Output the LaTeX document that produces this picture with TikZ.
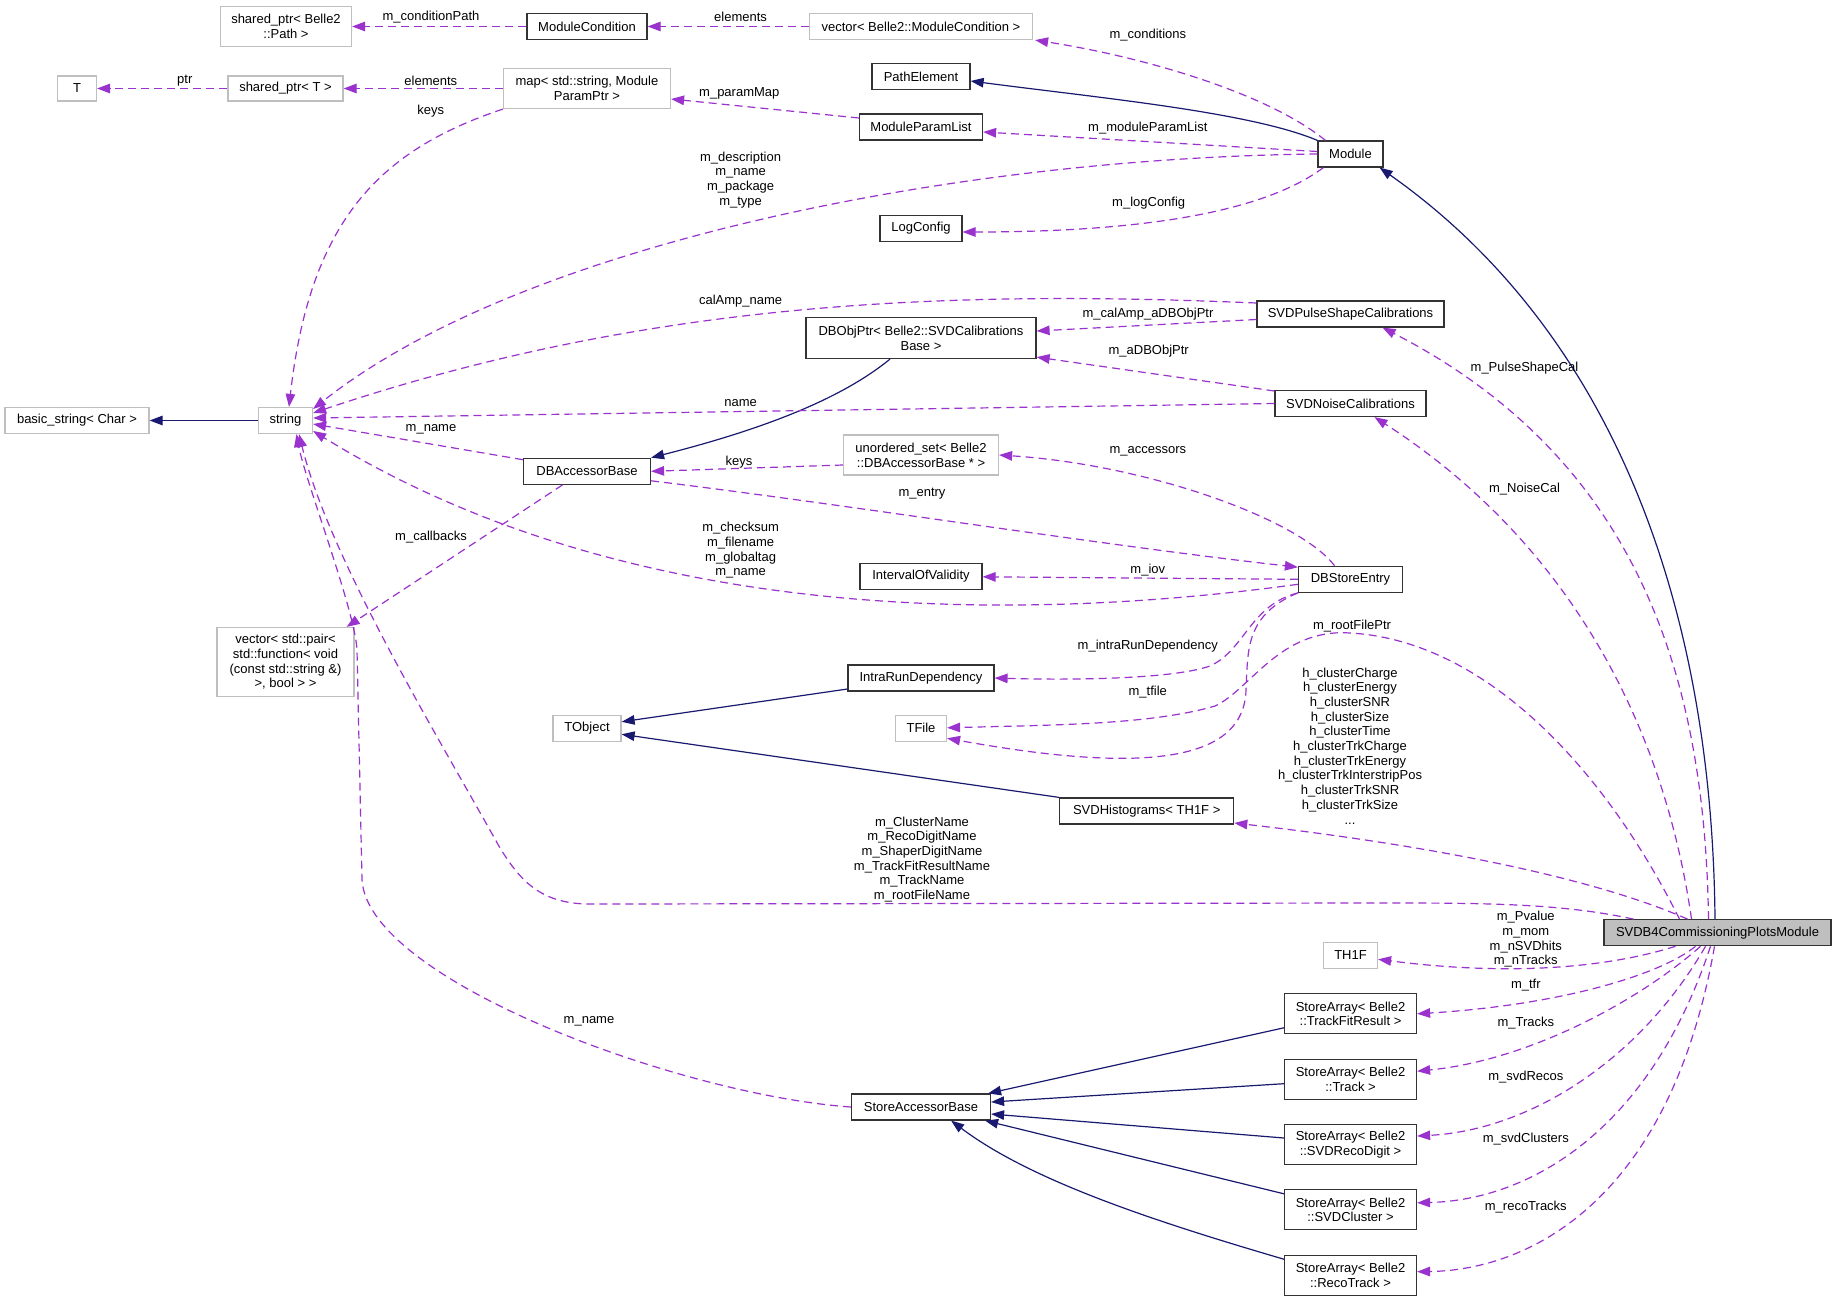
\documentclass[tikz,border=0pt]{standalone}
\usepackage{fontspec}
\setmainfont{Liberation Sans}
\usetikzlibrary{arrows.meta,calc}
\definecolor{usecol}{HTML}{9A32CD}
\definecolor{inhcol}{HTML}{191970}
\definecolor{grayb}{HTML}{BFBFBF}
\newcommand\fsz{\fontsize{13}{14.7}\selectfont}
\tikzset{
  box/.style={draw=black!80, line width=1.2pt, rectangle, inner sep=0pt, align=center, font=\fsz},
  gbox/.style={box, draw=grayb},
  lbl/.style={inner sep=0pt, align=center, font=\fsz},
  use/.style={draw=usecol, line width=1.2pt, dash pattern=on 8pt off 5pt, -{Triangle[length=13pt,width=9.5pt,fill=usecol]}},
  inh/.style={draw=inhcol, line width=1.2pt, -{Triangle[length=13pt,width=9.5pt,fill=inhcol]}}
}
\begin{document}
\begin{tikzpicture}[x=1pt,y=-1pt]
\fill[white] (0,0) rectangle (1836,1301);
\useasboundingbox (0,0) rectangle (1836,1301);
% nodes
\node[gbox, minimum width=131pt, minimum height=40pt] (sp) at (286,26.5) {shared\_ptr< Belle2\\::Path >};
\node[box, minimum width=120pt, minimum height=26pt] (mc) at (587,26.5) {ModuleCondition};
\node[gbox, minimum width=223pt, minimum height=26pt] (vmc) at (921,26.5) {vector< Belle2::ModuleCondition >};
\node[gbox, minimum width=39pt, minimum height=25pt] (T) at (77,88.5) {T};
\node[gbox, minimum width=115pt, minimum height=25pt] (spT) at (285.5,88.5) {shared\_ptr< T >};
\node[gbox, minimum width=167pt, minimum height=40pt] (map) at (587,88.5) {map< std::string, Module\\ParamPtr >};
\node[box, minimum width=98pt, minimum height=26pt] (pe) at (921,76.5) {PathElement};
\node[box, minimum width=123pt, minimum height=26pt] (mpl) at (921,127) {ModuleParamList};
\node[box, minimum width=82pt, minimum height=26pt] (lc) at (921,228.5) {LogConfig};
\node[box, minimum width=65pt, minimum height=26pt] (mod) at (1350.5,154) {Module};
\node[box, minimum width=230pt, minimum height=41pt] (dbo) at (921,338) {DBObjPtr< Belle2::SVDCalibrations\\Base >};
\node[box, minimum width=187pt, minimum height=26pt] (psc) at (1350.5,314) {SVDPulseShapeCalibrations};
\node[box, minimum width=151pt, minimum height=26pt] (nc) at (1350.5,403.5) {SVDNoiseCalibrations};
\node[gbox, minimum width=144pt, minimum height=26pt] (bs) at (77,420.5) {basic\_string< Char >};
\node[gbox, minimum width=54pt, minimum height=26pt] (str) at (285.5,420.5) {string};
\node[box, minimum width=127pt, minimum height=26pt] (dba) at (587,471.3) {DBAccessorBase};
\node[gbox, minimum width=155pt, minimum height=40pt] (us) at (921,455) {unordered\_set< Belle2\\::DBAccessorBase * >};
\node[box, minimum width=122pt, minimum height=26pt] (iov) at (921,576.3) {IntervalOfValidity};
\node[box, minimum width=104pt, minimum height=26pt] (dbs) at (1350.5,579.3) {DBStoreEntry};
\node[gbox, minimum width=137pt, minimum height=69pt] (vp) at (285.5,662) {vector< std::pair<\\std::function< void\\(const std::string \&)\\>, bool > >};
\node[box, minimum width=146pt, minimum height=26pt] (ird) at (921,678) {IntraRunDependency};
\node[gbox, minimum width=68pt, minimum height=26pt] (tobj) at (587,728.3) {TObject};
\node[gbox, minimum width=51pt, minimum height=26pt] (tf) at (921,728.3) {TFile};
\node[box, minimum width=174pt, minimum height=26pt] (hist) at (1146.7,811) {SVDHistograms< TH1F >};
\node[gbox, minimum width=54pt, minimum height=26pt] (th1f) at (1350.5,955.3) {TH1F};
\node[box, fill=grayb, minimum width=227pt, minimum height=26pt] (main) at (1717.5,932.7) {SVDB4CommissioningPlotsModule};
\node[box, minimum width=139pt, minimum height=26pt] (sab) at (921,1107) {StoreAccessorBase};
\node[box, minimum width=132pt, minimum height=40pt] (sa1) at (1350.5,1013.8) {StoreArray< Belle2\\::TrackFitResult >};
\node[box, minimum width=132pt, minimum height=40pt] (sa2) at (1350.5,1079.2) {StoreArray< Belle2\\::Track >};
\node[box, minimum width=132pt, minimum height=40pt] (sa3) at (1350.5,1144.5) {StoreArray< Belle2\\::SVDRecoDigit >};
\node[box, minimum width=132pt, minimum height=40pt] (sa4) at (1350.5,1209.8) {StoreArray< Belle2\\::SVDCluster >};
\node[box, minimum width=132pt, minimum height=40pt] (sa5) at (1350.5,1275.2) {StoreArray< Belle2\\::RecoTrack >};
% inheritance edges
\draw[inh] (str.west) -- (bs.east);
\draw[inh] (mod.north west) .. controls (1250,112) and (1100,98) .. ($(pe.east)+(0,4.5)$);
\draw[inh] ($(main.north)+(-2.5,0)$) .. controls (1712,600) and (1610,330) .. ($(mod.south east)+(-4,0)$);
\draw[inh] ($(dbo.south)+(-31,0)$) .. controls (840,400) and (760,430) .. (dba.north east);
\draw[inh] ($(ird.west)+(0,11)$) -- ($(tobj.east)+(0,-6.5)$);
\draw[inh] (hist.north west) -- ($(tobj.east)+(0,6)$);
\draw[inh] ($(sa1.west)+(0,14)$) -- ($(sab.north east)+(-3,0)$);
\draw[inh] ($(sa2.west)+(0,4.5)$) -- ($(sab.east)+(0,-5)$);
\draw[inh] ($(sa3.west)+(0,-6.5)$) -- ($(sab.east)+(0,7)$);
\draw[inh] ($(sa4.west)+(0,-16)$) -- ($(sab.south east)+(-6,0)$);
\draw[inh] ($(sa5.west)+(0,-16)$) .. controls (1150,1220) and (1030,1180) .. ($(sab.south east)+(-40,0)$);
% usage edges
\draw[use] (mc.west) -- (sp.east);
\draw[use] (vmc.west) -- (mc.east);
\draw[use] (spT.west) -- (T.east);
\draw[use] (map.west) -- (spT.east);
\draw[use] (map.south west) .. controls (380,150) and (310,220) .. ($(str.north)+(3.5,0)$);
\draw[use] ($(mpl.west)+(0,-9)$) -- ($(map.east)+(0,10.5)$);
\draw[use] ($(mod.north west)+(8,0)$) .. controls (1270,95) and (1150,58) .. ($(vmc.south east)+(2,0)$);
\draw[use] ($(mod.west)+(0,-2.5)$) -- ($(mpl.east)+(0,5)$);
\draw[use] (mod.west) .. controls (950,158) and (520,245) .. ($(str.east)+(0,-11.5)$);
\draw[use] ($(mod.south west)+(6,0)$) .. controls (1260,215) and (1130,232) .. ($(lc.east)+(0,3.5)$);
\draw[use] ($(psc.west)+(0,-11)$) .. controls (950,290) and (650,300) .. ($(str.east)+(0,-7.5)$);
\draw[use] ($(psc.west)+(0,5.5)$) -- ($(dbo.east)+(0,-7)$);
\draw[use] ($(nc.west)+(0,-12.5)$) -- ($(dbo.south east)+(0,-2)$);
\draw[use] (nc.west) -- ($(str.east)+(0,-2.5)$);
\draw[use] ($(main.north)+(-9,0)$) .. controls (1705,680) and (1640,460) .. ($(psc.south)+(32,0)$);
\draw[use] ($(main.north)+(-26,0)$) .. controls (1660,700) and (1550,530) .. ($(nc.south)+(24,0)$);
\draw[use] ($(dba.north west)+(0,2)$) -- ($(str.east)+(0,3.5)$);
\draw[use] ($(us.west)+(0,10)$) -- (dba.east);
\draw[use] ($(dbs.north)+(-16,0)$) .. controls (1300,520) and (1150,465) .. (us.east);
\draw[use] ($(dba.east)+(0,9.5)$) .. controls (850,505) and (1100,545) .. ($(dbs.north west)+(0,1.5)$);
\draw[use] (dbs.west) -- ($(iov.east)+(0,0.5)$);
\draw[use] ($(dbs.west)+(0,5)$) .. controls (1000,625) and (620,620) .. ($(str.east)+(0,10.5)$);
\draw[use] (dbs.south west) .. controls (1250,605) and (1245,650) .. (1210,666) .. controls (1170,680) and (1060,680) .. (ird.east);
\draw[use] (dbs.south west) .. controls (1245,615) and (1248,650) .. (1246,690) .. controls (1244,760) and (1150,775) .. ($(tf.east)+(0,10)$);
\draw[use] ($(main.north)+(-38,0)$) .. controls (1600,760) and (1480,640) .. (1350,633) .. controls (1280,628) and (1250,690) .. (1215,706) .. controls (1150,725) and (1050,725) .. ($(tf.east)+(0,-0.5)$);
\draw[use] ($(main.north)+(-30,0)$) .. controls (1610,885) and (1470,850) .. ($(hist.east)+(0,12)$);
\draw[use] ($(main.north west)+(30,0)$) .. controls (1560,903) and (1480,903) .. (1380,903) -- (590,904) .. controls (540,904) and (520,880) .. (500,848) .. controls (440,740) and (330,560) .. ($(str.south)+(13.5,0)$);
\draw[use] (sab.west) .. controls (680,1095) and (368,980) .. (362,880) -- (357,650) .. controls (355,610) and (305,480) .. ($(str.south)+(11,0)$);
\draw[use] ($(dba.south)+(-24.5,0)$) -- ($(vp.north east)+(-8,0)$);
\draw[use] ($(main.south)+(-42,0)$) .. controls (1600,970) and (1500,975) .. ($(th1f.east)+(0,4)$);
\draw[use] ($(main.south)+(-22,0)$) .. controls (1660,975) and (1560,1005) .. (sa1.east);
\draw[use] ($(main.south)+(-17,0)$) .. controls (1640,1000) and (1530,1060) .. ($(sa2.east)+(0,-8)$);
\draw[use] ($(main.south)+(-12,0)$) .. controls (1640,1060) and (1530,1130) .. ($(sa3.east)+(0,-8.5)$);
\draw[use] ($(main.south)+(-7,0)$) .. controls (1650,1130) and (1530,1200) .. ($(sa4.east)+(0,-7)$);
\draw[use] ($(main.south)+(-3,0)$) .. controls (1670,1200) and (1530,1270) .. ($(sa5.east)+(0,-3.5)$);
% labels
\node[lbl] (l1) at (431,17) {m\_conditionPath};
\node[lbl] (l2) at (740.6,17.3) {elements};
\node[lbl] (l3) at (184.8,80.7) {ptr};
\node[lbl] (l4) at (430.8,80.7) {elements};
\node[lbl] (l5) at (430.8,111) {keys};
\node[lbl] (l6) at (739.3,93.7) {m\_paramMap};
\node[lbl] (l7) at (1147.8,34.7) {m\_conditions};
\node[lbl] (l9) at (1147.8,128.3) {m\_moduleParamList};
\node[lbl] (l10) at (740.6,179.7) {m\_description\\m\_name\\m\_package\\m\_type};
\node[lbl] (l11) at (1148.7,203) {m\_logConfig};
\node[lbl] (l13) at (740.6,301) {calAmp\_name};
\node[lbl] (l14) at (1148,313.7) {m\_calAmp\_aDBObjPtr};
\node[lbl] (l15) at (1148.7,350.7) {m\_aDBObjPtr};
\node[lbl] (l16) at (740.6,402.7) {name};
\node[lbl] (l17) at (1524.5,368) {m\_PulseShapeCal};
\node[lbl] (l18) at (1524.5,489) {m\_NoiseCal};
\node[lbl] (l20) at (431,429.7) {m\_name};
\node[lbl] (l21) at (739,461.7) {keys};
\node[lbl] (l22) at (1147.8,451) {m\_accessors};
\node[lbl] (l23) at (922,493.7) {m\_entry};
\node[lbl] (l24) at (1147.8,569.7) {m\_iov};
\node[lbl] (l25) at (740.6,550.5) {m\_checksum\\m\_filename\\m\_globaltag\\m\_name};
\node[lbl] (l26) at (1147.8,645.7) {m\_intraRunDependency};
\node[lbl] (l27) at (1147.8,692.3) {m\_tfile};
\node[lbl] (l28) at (1352,625.7) {m\_rootFilePtr};
\node[lbl] (l31) at (1350,745.8) {h\_clusterCharge\\h\_clusterEnergy\\h\_clusterSNR\\h\_clusterSize\\h\_clusterTime\\h\_clusterTrkCharge\\h\_clusterTrkEnergy\\h\_clusterTrkInterstripPos\\h\_clusterTrkSNR\\h\_clusterTrkSize\\...};
\node[lbl] (l32) at (922,859.5) {m\_ClusterName\\m\_RecoDigitName\\m\_ShaperDigitName\\m\_TrackFitResultName\\m\_TrackName\\m\_rootFileName};
\node[lbl] (l33) at (589,1021) {m\_name};
\node[lbl] (l34) at (431,536.7) {m\_callbacks};
\node[lbl] (l35) at (1525.8,939.5) {m\_Pvalue\\m\_mom\\m\_nSVDhits\\m\_nTracks};
\node[lbl] (l36) at (1525.8,985.3) {m\_tfr};
\node[lbl] (l37) at (1525.8,1022.7) {m\_Tracks};
\node[lbl] (l38) at (1525.8,1076.7) {m\_svdRecos};
\node[lbl] (l39) at (1525.8,1138.7) {m\_svdClusters};
\node[lbl] (l40) at (1525.8,1206.7) {m\_recoTracks};
\end{tikzpicture}
\end{document}
